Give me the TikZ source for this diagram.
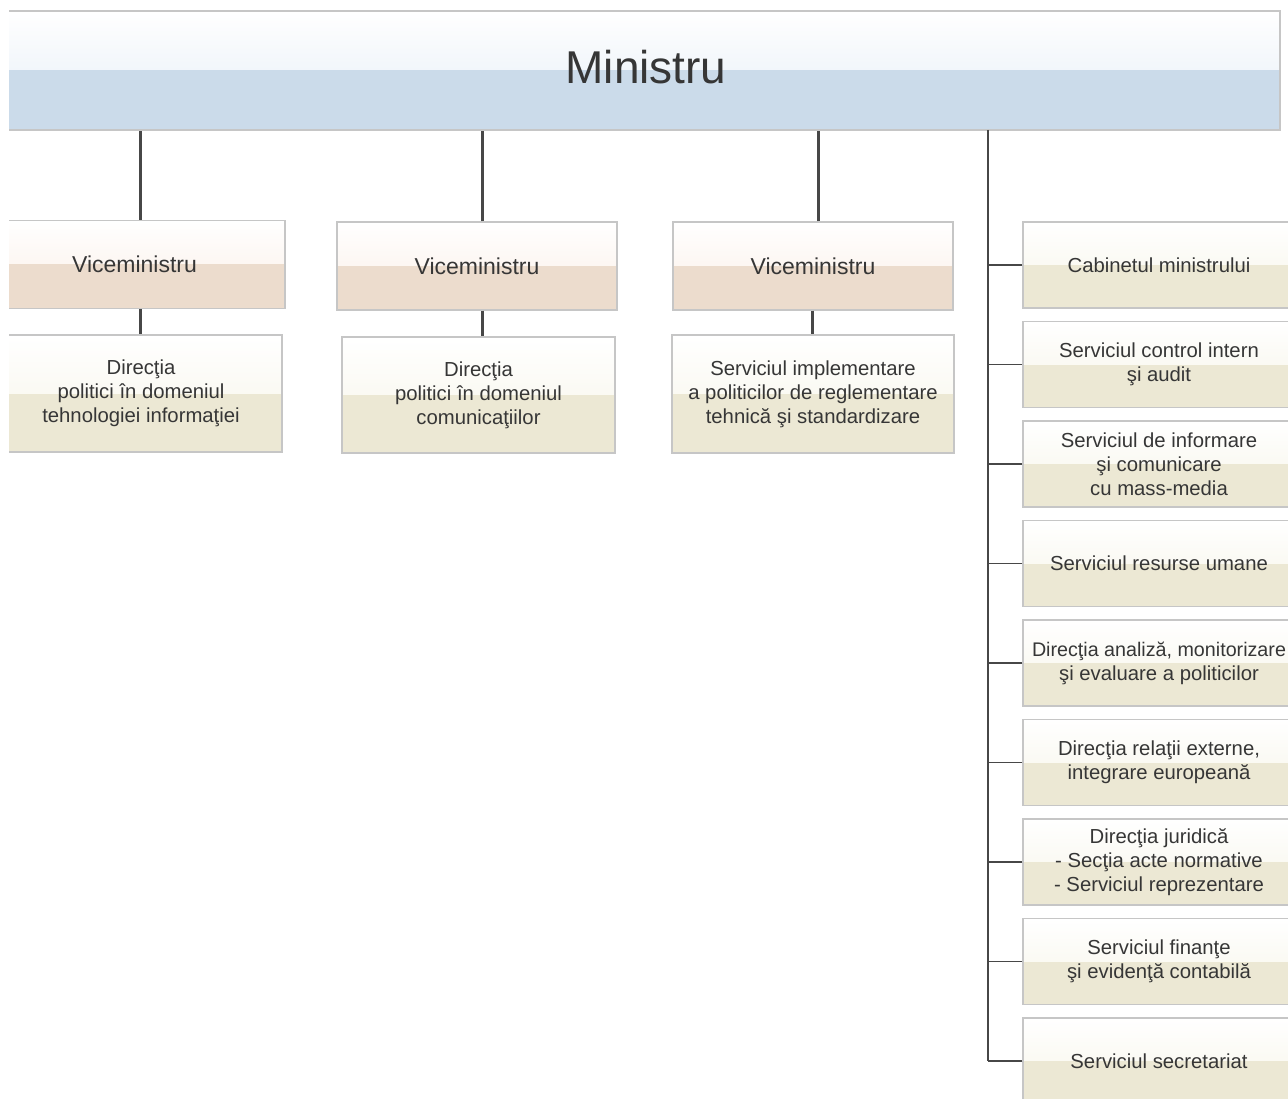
\documentclass[tikz,border=0pt]{standalone}
\usepackage{fontspec}
\setmainfont{Liberation Sans}
\definecolor{txt}{HTML}{363636}
\definecolor{linec}{HTML}{474747}
\definecolor{bord}{HTML}{C6C6C6}
\definecolor{blueA}{HTML}{E4EDF6}
\definecolor{blueB}{HTML}{CBDBEA}
\definecolor{peachA}{HTML}{FAEEE5}
\definecolor{peachB}{HTML}{ECDCCD}
\definecolor{khakiA}{HTML}{F6F4E7}
\definecolor{khakiB}{HTML}{ECE8D4}
\tikzset{
  twotone/.style 2 args={path picture={
    \shade[top color=white,bottom color=#1] (path picture bounding box.north west) rectangle (path picture bounding box.east);
    \fill[#2] (path picture bounding box.west) rectangle (path picture bounding box.south east);}},
  box/.style={rectangle, draw=bord, line width=1.3pt, inner sep=0pt, align=center, text=txt,
    font=\fontsize{20.3}{24}\selectfont},
  vicebox/.style={box, twotone={peachA}{peachB}, minimum height=88pt, font=\fontsize{23}{27}\selectfont},
  unitbox/.style={box, twotone={khakiA}{khakiB}},
  sidebox/.style={unitbox, minimum width=272pt, minimum height=86pt},
  conn/.style={draw=linec, line width=3pt},
  trunkline/.style={draw=linec, line width=2.5pt},
  branch/.style={draw=linec, line width=1.5pt},
}
\begin{document}
\begin{tikzpicture}[x=1pt,y=-1pt]
\useasboundingbox (0,0) rectangle (1288,1099);
\fill[white] (0,0) rectangle (1288,1099);
\clip (9,0) rectangle (1288,1099);

% top bar
\node[box, twotone={blueA}{blueB}, minimum width=1280pt, minimum height=119pt,
  font=\fontsize{46}{50}\selectfont, text depth=7pt, text=txt] (min) at (640,70.5) {\hspace*{12pt}Ministru};

% vice-ministers
\node[vicebox, minimum width=301pt] (v1) at (134.5,264.5) {Viceministru};
\node[vicebox, minimum width=280pt] (v2) at (477,266) {Viceministru};
\node[vicebox, minimum width=280pt] (v3) at (813,266) {Viceministru};

% subordinate units
\node[unitbox, minimum width=282pt, minimum height=117pt] (d1) at (141,393.5)
  {Direcţia\\politici în domeniul\\tehnologiei informaţiei};
\node[unitbox, minimum width=273pt, minimum height=116pt] (d2) at (478.5,395)
  {Direcţia\\politici în domeniul\\comunicaţiilor};
\node[unitbox, minimum width=282pt, minimum height=118pt] (d3) at (813,394)
  {Serviciul implementare\\a politicilor de reglementare\\tehnică şi standardizare};

% right column
\foreach \n [count=\i from 0] in {
  {Cabinetul ministrului},
  {Serviciul control intern\\şi audit},
  {Serviciul de informare\\şi comunicare\\cu mass-media},
  {Serviciul resurse umane},
  {\fontsize{19.7}{24}\selectfont Direcţia analiză, monitorizare\\şi evaluare a politicilor},
  {Direcţia relaţii externe,\\integrare europeană},
  {Direcţia juridică\\- Secţia acte normative\\- Serviciul reprezentare},
  {Serviciul finanţe\\şi evidenţă contabilă},
  {Serviciul secretariat}}
{
  \node[sidebox] (r\i) at (1159,{265+99.5*\i}) {\n};
}

% connectors: minister to vice-ministers
\draw[conn] ([xshift=5.5pt]v1.north) -- ([xshift=5.5pt]v1.north |- min.south);
\draw[conn] ([xshift=5pt]v2.north) -- ([xshift=5pt]v2.north |- min.south);
\draw[conn] ([xshift=5pt]v3.north) -- ([xshift=5pt]v3.north |- min.south);

% vice-ministers to units
\draw[conn] ([xshift=5.5pt]v1.south) -- ([xshift=5.5pt]v1.south |- d1.north);
\draw[conn] ([xshift=5pt]v2.south) -- ([xshift=5pt]v2.south |- d2.north);
\draw[conn] ([xshift=-1pt]v3.south) -- ([xshift=-1pt]v3.south |- d3.north);

% trunk to right column
\coordinate (tk) at (988,130);
\draw[trunkline] (tk) -- (tk |- r8.west);
\foreach \i in {0,...,8} { \draw[branch] (r\i.west) -- (r\i.west -| tk); }
\end{tikzpicture}
\end{document}
